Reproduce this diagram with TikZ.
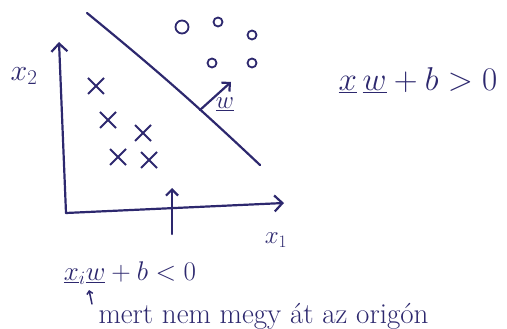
\RequirePackage{fix-cm}
\documentclass[tikz,border=0pt]{standalone}
\usepackage{tikz}
\usetikzlibrary{arrows.meta,shapes.misc,positioning}
\definecolor{ink}{RGB}{45,40,110}

\begin{document}
\begin{tikzpicture}[x=1pt,y=-1pt,
  inkline/.style={ink,line width=2.2pt,line cap=round},
  axis/.style={inkline,-{Straight Barb[length=8pt,width=16pt]}},
  cross/.style={cross out,draw=ink,line width=2pt,minimum size=14pt,inner sep=0pt},
  dot/.style={circle,draw=ink,line width=1.8pt,minimum size=9pt,inner sep=0pt},
  lbl/.style={text=ink,font=\fontsize{28}{30}\selectfont}
]
  \useasboundingbox (0,0) rectangle (507,329);

  % axes
  \coordinate (origin) at (66,213);
  \coordinate (x2tip) at (59,42);
  \coordinate (x1tip) at (284,203);
  \draw[axis] (origin) -- (x2tip);
  \draw[axis] (origin) -- (x1tip);
  \node[lbl,font=\fontsize{30}{32}\selectfont] (x2) at (24,76) {$x_2$};
  \node[lbl,font=\fontsize{25}{27}\selectfont] (x1) at (276,240) {$x_1$};

  % decision boundary and normal vector
  \coordinate (top) at (87,13);
  \coordinate (bottom) at (260,165);
  \draw[inkline] (top) to[bend left=2] (bottom);
  \coordinate (wbase) at (200,110);
  \coordinate (wtip) at (231,82);
  \draw[axis,-{Straight Barb[length=6pt,width=12pt]}] (wbase) -- (wtip);
  \node[lbl,font=\fontsize{25}{27}\selectfont] (w) at (225,104) {$\underline{w}$};

  % offset
  \coordinate (bfoot) at (172,234);
  \coordinate (bhead) at (172,188);
  \draw[axis,-{Straight Barb[length=6pt,width=12pt]}] (bfoot) -- (bhead);

  % class -1
  \foreach \p/\q [count=\i] in {96/86, 108/120, 143/133, 118/157, 149/160}
    \node[cross] (neg\i) at (\p,\q) {};
  % class +1
  \node[dot,minimum size=13pt] (pos1) at (182,27) {};
  \foreach \p/\q [count=\i from 2] in {218/22, 252/35, 212/63, 252/63}
    \node[dot] (pos\i) at (\p,\q) {};

  % rules
  \node[lbl,font=\fontsize{33}{35}\selectfont] (above) at (418,80) {$\underline{x}\,\underline{w}+b>0$};
  \node[lbl,font=\fontsize{27}{29}\selectfont] (below) at (130,273) {$\underline{x}_i\underline{w}+b<0$};
  \node[text=ink,font=\fontsize{29}{31}\selectfont,anchor=west] (note) at (95,316) {mert nem megy át az origón};
  \draw[inkline,line width=1.5pt,-{Straight Barb[length=3pt,width=6pt]}] ([xshift=-3pt,yshift=12pt]note.west) -- ++(-3,-14);
\end{tikzpicture}
\end{document}
